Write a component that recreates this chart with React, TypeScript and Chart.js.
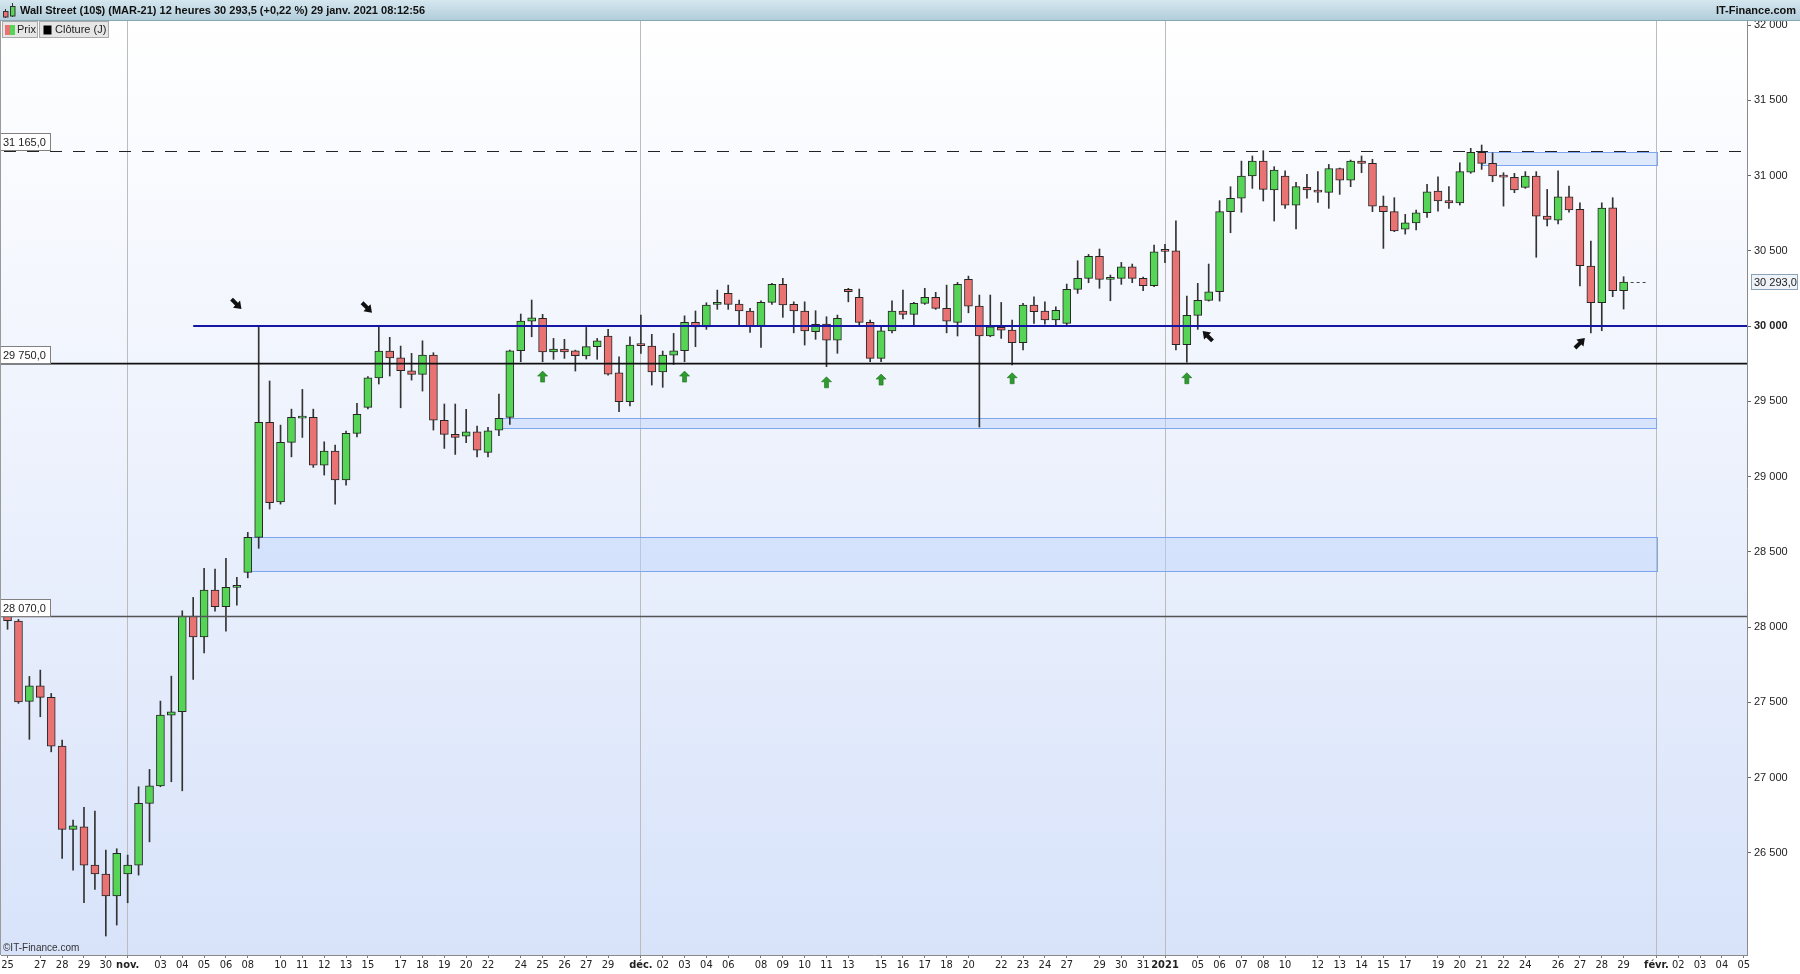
import React, { useEffect, useRef } from 'react';
import { Chart, registerables } from 'chart.js';
Chart.register(...registerables);

// ---------- data (12h candles, index 0 = Sun 25 Oct 2020) ----------
const opens = [
  28073,28040,27506,27610,27533,27209,26656,26673,26418,26359,
  26214,26359,26418,26828,26945,27415,27437,28073,27935,28246,
  28135,28264,28363,28596,29360,28832,29227,29388,29393,29076,
  29169,28977,29287,29460,29656,29834,29789,29703,29679,29807,
  29373,29280,29269,29298,29161,29309,29393,29836,30033,30051,
  29829,29847,29835,29801,29863,29934,29690,29497,29878,29867,
  29696,29807,29836,30025,29995,30144,30217,30146,30100,30000,
  30157,30277,30144,30100,29962,30013,29907,30244,30191,30025,
  29785,29967,30100,30078,30151,30191,30118,30025,30310,30133,
  29934,29991,29973,29889,30140,30100,30040,30018,30244,30317,
  30463,30310,30317,30394,30317,30268,30503,30500,29876,30071,
  30171,30228,30760,30849,30997,31096,30904,30997,30804,30922,
  30897,30888,31047,30970,31096,31081,30797,30760,30643,30686,
  30753,30897,30833,30819,31023,31154,31081,30997,30988,30922,
  30997,30731,30704,30859,30775,30399,30155,30786,30235
];
const highs = [
  28110,28051,27672,27714,27559,27249,26717,26802,26777,26518,
  26527,26485,26939,27054,27508,27674,28108,28197,28390,28385,
  28456,28330,28629,30005,29635,29342,29448,29579,29448,29231,
  29209,29302,29486,29665,30000,29925,29867,29819,29902,29823,
  29482,29482,29446,29336,29327,29548,29840,30080,30173,30078,
  29918,29912,29840,29991,29918,29978,29796,29929,30073,29945,
  29834,29951,30068,30100,30155,30239,30272,30173,30118,30168,
  30284,30317,30161,30161,30102,30062,30073,30251,30246,30040,
  29995,30168,30239,30157,30251,30224,30272,30290,30332,30206,
  30206,30157,30040,30151,30195,30161,30128,30279,30434,30476,
  30512,30339,30423,30412,30325,30538,30543,30700,30199,30284,
  30412,30833,30926,31096,31130,31165,31059,31032,30955,31008,
  31026,31074,31050,31103,31130,31108,30864,30853,30742,30771,
  30942,30992,30926,31085,31181,31203,31152,31019,31015,31026,
  31026,30908,31032,30930,30819,30565,30819,30853,30328
];
const lows = [
  27985,27493,27254,27404,27171,26463,26385,26168,26257,25947,
  26020,26168,26352,26573,26939,26972,26912,27652,27829,28106,
  27973,28146,28327,28523,28784,28817,29131,29260,29061,29010,
  28817,28943,29264,29450,29615,29668,29457,29641,29568,29309,
  29187,29147,29225,29131,29131,29271,29347,29763,29929,29763,
  29779,29785,29701,29781,29779,29674,29431,29470,29819,29608,
  29593,29745,29763,29863,29978,30111,30111,30000,29958,29858,
  30144,30058,29955,29874,29912,29730,29819,30161,30000,29763,
  29763,29955,30047,30000,30144,30111,29955,29934,30088,29329,
  29929,29918,29741,29841,30018,30013,30002,30007,30217,30288,
  30251,30168,30277,30288,30235,30261,30421,29841,29760,29978,
  30166,30166,30620,30756,30915,30831,30698,30782,30645,30849,
  30822,30782,30875,30926,31019,30760,30516,30627,30611,30638,
  30722,30764,30782,30804,31015,31041,30959,30797,30886,30915,
  30457,30665,30678,30756,30266,29955,29969,30195,30113
];
const closes = [
  28042,27503,27610,27533,27209,26656,26680,26418,26359,26214,
  26496,26418,26828,26945,27415,27437,28073,27935,28246,28135,
  28264,28272,28596,29360,28826,29227,29393,29398,29076,29169,
  28977,29287,29413,29656,29834,29789,29703,29679,29807,29375,
  29280,29260,29298,29176,29304,29387,29836,30033,30055,29829,
  29847,29829,29803,29863,29902,29681,29497,29874,29870,29696,
  29807,29836,30025,29995,30140,30157,30144,30100,30000,30157,
  30277,30140,30100,29967,30011,29907,30051,30228,30025,29785,
  29969,30100,30078,30151,30191,30118,30033,30277,30133,29934,
  29995,29973,29889,30140,30095,30040,30104,30244,30317,30463,
  30310,30324,30394,30317,30268,30494,30496,29876,30071,30171,
  30228,30760,30849,30997,31096,30908,31037,30804,30926,30904,
  30890,31047,30970,31096,31081,30797,30760,30633,30686,30753,
  30892,30831,30819,31026,31154,31081,30997,30990,30904,30997,
  30731,30709,30859,30771,30401,30155,30784,30235,30293
];

const tickIdx = [0,3,5,7,9,11,14,16,18,20,22,25,27,29,31,33,36,38,40,42,44,47,49,51,53,55,
  58,60,62,64,66,69,71,73,75,77,80,82,84,86,88,91,93,95,97,100,102,104,
  106,109,111,113,115,117,120,122,124,126,128,131,133,135,137,139,142,144,146,148,
  151,153,155,157,159];
const tickText = ['25','27','28','29','30','nov.','03','04','05','06','08','10','11','12','13','15','17','18','19','20','22','24','25','26','27','29',
  'déc.','02','03','04','06','08','09','10','11','13','15','16','17','18','20','22','23','24','27','29','30','31',
  '2021','05','06','07','08','10','12','13','14','15','17','19','20','21','22','24','26','27','28','29',
  'févr.','02','03','04','05'];
const monthIdx = [11, 58, 106, 151];
const monthText = ['nov.', 'déc.', '2021', 'févr.'];
const yTicks = [26500, 27000, 27500, 28000, 28500, 29000, 29500, 30000, 30500, 31000, 31500, 32000];

// zones (support/resistance boxes)
const zoneFrom = [22, 45, 135];
const zoneTo = [151, 151, 151];
const zoneLow = [28370, 29320, 31070];
const zoneHigh = [28596, 29387, 31154];

// horizontal levels
const levelValues = [31165, 29750, 28070];
const levelTexts = ['31 165,0', '29 750,0', '28 070,0'];
const blueLevel = 30000;
const blueFrom = 17;

// annotations
const blackArrowX = [20.97, 32.92, 109.9, 144.0];
const blackArrowY = [30146, 30122, 29934, 29887];
const blackArrowDir = [45, 45, 225, -45];
const greenArrowX = [49, 62, 75, 80, 92, 108];
const greenArrowY = [29661, 29661, 29623, 29641, 29650, 29650];

const lastPrice = 30293;
const lastText = '30 293,0';
const titleText = 'Wall Street (10$) (MAR-21) 12 heures 30 293,5 (+0,22 %) 29 janv. 2021 08:12:56';

const SANS = '"Liberation Sans", Arial, sans-serif';
const NARROW = '"Liberation Sans Narrow", "DejaVu Sans Condensed", "Liberation Sans", sans-serif';
const GREEN = '#55d455';
const RED = '#e97373';

const fmt = (v: number) => {
  const s = String(Math.round(v));
  return s.slice(0, s.length - 3) + ' ' + s.slice(-3);
};

const deco = {
  id: 'deco',
  beforeDraw(chart: any) {
    const { ctx, chartArea: a } = chart;
    ctx.save();
    ctx.fillStyle = '#ffffff';
    ctx.fillRect(0, 0, chart.width, chart.height);
    const g = ctx.createLinearGradient(0, a.top, 0, a.bottom);
    g.addColorStop(0, '#ffffff');
    g.addColorStop(1, '#d8e3fa');
    ctx.fillStyle = g;
    ctx.fillRect(a.left, a.top, a.right - a.left, a.bottom - a.top);
    ctx.restore();
  },
  beforeDatasetsDraw(chart: any) {
    const { ctx } = chart;
    const xs = chart.scales.x, ys = chart.scales.y;
    ctx.save();
    for (let k = 0; k < zoneFrom.length; k++) {
      const x0 = xs.getPixelForValue(zoneFrom[k]);
      const x1 = xs.getPixelForValue(zoneTo[k]);
      const y0 = ys.getPixelForValue(zoneHigh[k]);
      const y1 = ys.getPixelForValue(zoneLow[k]);
      ctx.fillStyle = 'rgba(188,210,250,0.45)';
      ctx.fillRect(x0, y0, x1 - x0, y1 - y0);
      ctx.strokeStyle = '#7ea6ee';
      ctx.lineWidth = 1;
      ctx.strokeRect(Math.round(x0) + 0.5, Math.round(y0) + 0.5, Math.round(x1 - x0), Math.round(y1 - y0));
    }
    ctx.restore();
  },
  afterDatasetsDraw(chart: any) {
    const { ctx, chartArea: a } = chart;
    const xs = chart.scales.x, ys = chart.scales.y;
    ctx.save();
    // dashed resistance
    let y = Math.round(ys.getPixelForValue(levelValues[0])) + 0.5;
    ctx.strokeStyle = '#222';
    ctx.lineWidth = 1;
    ctx.setLineDash([12, 11]);
    ctx.beginPath(); ctx.moveTo(a.left + 3, y); ctx.lineTo(a.right, y); ctx.stroke();
    ctx.setLineDash([]);
    // 29750 black
    y = ys.getPixelForValue(levelValues[1]);
    ctx.strokeStyle = '#111'; ctx.lineWidth = 1.8;
    ctx.beginPath(); ctx.moveTo(a.left, y); ctx.lineTo(a.right, y); ctx.stroke();
    // 28070 gray
    y = ys.getPixelForValue(levelValues[2]);
    ctx.strokeStyle = '#555'; ctx.lineWidth = 1.4;
    ctx.beginPath(); ctx.moveTo(a.left, y); ctx.lineTo(a.right, y); ctx.stroke();
    // 30000 blue
    y = ys.getPixelForValue(blueLevel);
    ctx.strokeStyle = '#1616a4'; ctx.lineWidth = 2;
    ctx.beginPath(); ctx.moveTo(xs.getPixelForValue(blueFrom), y); ctx.lineTo(a.right, y); ctx.stroke();

    // black arrows
    for (let k = 0; k < blackArrowX.length; k++) {
      const cx = xs.getPixelForValue(blackArrowX[k]);
      const cy = ys.getPixelForValue(blackArrowY[k]);
      ctx.save();
      ctx.translate(cx, cy);
      ctx.rotate((blackArrowDir[k] * Math.PI) / 180);
      ctx.fillStyle = '#111';
      ctx.beginPath();
      ctx.moveTo(7, 0); ctx.lineTo(0, -5); ctx.lineTo(0, -2); ctx.lineTo(-7, -2);
      ctx.lineTo(-7, 2); ctx.lineTo(0, 2); ctx.lineTo(0, 5); ctx.closePath();
      ctx.fill();
      ctx.restore();
    }
    // green arrows
    for (let k = 0; k < greenArrowX.length; k++) {
      const cx = xs.getPixelForValue(greenArrowX[k]);
      const cy = ys.getPixelForValue(greenArrowY[k]);
      ctx.save();
      ctx.translate(cx, cy);
      ctx.fillStyle = '#2f9c2f';
      ctx.strokeStyle = '#1e6d1e';
      ctx.lineWidth = 0.6;
      ctx.beginPath();
      ctx.moveTo(0, -6); ctx.lineTo(5, -1); ctx.lineTo(2, -1); ctx.lineTo(2, 5);
      ctx.lineTo(-2, 5); ctx.lineTo(-2, -1); ctx.lineTo(-5, -1); ctx.closePath();
      ctx.fill(); ctx.stroke();
      ctx.restore();
    }
    // close marker dashed
    const lx = xs.getPixelForValue(closes.length - 1);
    const ly = Math.round(ys.getPixelForValue(lastPrice)) + 0.5;
    ctx.strokeStyle = '#444'; ctx.lineWidth = 1; ctx.setLineDash([3, 3]);
    ctx.beginPath(); ctx.moveTo(lx + 7, ly); ctx.lineTo(lx + 22, ly); ctx.stroke();
    ctx.setLineDash([]);

    // left level labels
    ctx.font = '11px ' + SANS;
    ctx.textBaseline = 'middle';
    for (let k = 0; k < levelValues.length; k++) {
      const by = Math.round(ys.getPixelForValue(levelValues[k]));
      ctx.fillStyle = '#ffffff';
      ctx.fillRect(0.5, by - 17.5, 50, 17);
      ctx.strokeStyle = '#808080'; ctx.lineWidth = 1;
      ctx.strokeRect(0.5, by - 17.5, 50, 17);
      ctx.fillStyle = '#222';
      ctx.fillText(levelTexts[k], 3, by - 8.5);
    }
    // copyright
    ctx.font = '10px ' + SANS;
    ctx.fillStyle = '#333';
    ctx.fillText('\u00a9IT-Finance.com', 3, a.bottom - 7);
    // left border
    ctx.strokeStyle = '#9a9a9a'; ctx.lineWidth = 1;
    ctx.beginPath(); ctx.moveTo(0.5, a.top); ctx.lineTo(0.5, a.bottom); ctx.stroke();
    ctx.restore();
  },
  afterDraw(chart: any) {
    const { ctx } = chart;
    const ys = chart.scales.y;
    ctx.save();
    // header
    const g = ctx.createLinearGradient(0, 0, 0, 21);
    g.addColorStop(0, '#d5e7ef');
    g.addColorStop(1, '#b1ccda');
    ctx.fillStyle = g;
    ctx.fillRect(0, 0, chart.width, 21);
    ctx.strokeStyle = '#86a6b6'; ctx.lineWidth = 1;
    ctx.beginPath(); ctx.moveTo(0, 20.5); ctx.lineTo(chart.width, 20.5); ctx.stroke();
    // icon
    ctx.strokeStyle = '#333';
    ctx.beginPath(); ctx.moveTo(5.5, 9); ctx.lineTo(5.5, 18); ctx.moveTo(12.5, 3); ctx.lineTo(12.5, 17); ctx.stroke();
    ctx.fillStyle = RED; ctx.fillRect(3, 11.5, 5, 5.5); ctx.strokeRect(3.5, 11.5, 4.5, 5.5);
    ctx.fillStyle = GREEN; ctx.fillRect(10, 6.5, 5, 9.5); ctx.strokeRect(10.5, 6.5, 4.5, 9.5);
    ctx.font = 'bold 11px ' + SANS;
    ctx.fillStyle = '#111';
    ctx.textBaseline = 'middle';
    ctx.textAlign = 'left';
    ctx.fillText(titleText, 20, 11);
    ctx.textAlign = 'right';
    ctx.fillText('IT-Finance.com', 1796, 11);
    ctx.textAlign = 'left';
    // legend boxes
    ctx.font = '11px ' + SANS;
    ctx.fillStyle = '#e6e6e6';
    ctx.fillRect(2.5, 21.5, 35, 16);
    ctx.fillRect(39.5, 21.5, 69, 16);
    ctx.strokeStyle = '#a9a9a9';
    ctx.strokeRect(2.5, 21.5, 35, 16);
    ctx.strokeRect(39.5, 21.5, 69, 16);
    ctx.fillStyle = RED; ctx.fillRect(5, 25, 5, 10);
    ctx.fillStyle = GREEN; ctx.fillRect(10, 25, 5, 10);
    ctx.fillStyle = '#000'; ctx.fillRect(43.5, 25.5, 8, 9);
    ctx.fillStyle = '#222';
    ctx.fillText('Prix', 17, 30);
    ctx.fillText('Cl\u00f4ture (J)', 55, 30);
    // last price label on axis
    const py = Math.round(ys.getPixelForValue(lastPrice));
    ctx.fillStyle = '#eef3f8';
    ctx.fillRect(1751.5, py - 7.5, 46, 15);
    ctx.strokeStyle = '#8aa3b8';
    ctx.strokeRect(1751.5, py - 7.5, 46, 15);
    ctx.fillStyle = '#222';
    ctx.fillText(lastText, 1754, py + 0.5);
    ctx.restore();
  },
};

export default function App() {
  const ref = useRef<HTMLCanvasElement>(null);
  useEffect(() => {
    document.body.style.margin = '0';
    document.body.style.overflow = 'hidden';
    const canvas = ref.current!;
    const idx = opens.map((_, i) => i);
    const chart = new Chart(canvas, {
      type: 'bar',
      data: {
        datasets: [
          {
            label: 'corps',
            data: idx.map((i) => ({ x: i, y: [opens[i], closes[i]] })) as any,
            backgroundColor: idx.map((i) => (closes[i] >= opens[i] ? GREEN : RED)),
            borderColor: '#262626',
            borderWidth: 1,
            borderSkipped: false,
            barThickness: 8,
            grouped: false,
            order: 0,
            minBarLength: 2,
          } as any,
          {
            label: 'mèches',
            data: idx.map((i) => ({ x: i, y: [lows[i], highs[i]] })) as any,
            backgroundColor: '#333333',
            borderWidth: 0,
            barThickness: 1,
            grouped: false,
            order: 1,
          } as any,
        ],
      },
      options: {
        responsive: false,
        animation: false,
        devicePixelRatio: 1,
        events: [],
        layout: { padding: { top: 21, left: 1, right: 0, bottom: 0 } },
        plugins: { legend: { display: false }, tooltip: { enabled: false } },
        scales: {
          x: {
            type: 'linear',
            min: -0.6,
            max: 159.3,
            offset: false,
            afterBuildTicks: (s: any) => {
              s.ticks = tickIdx.map((v) => ({ value: v }));
            },
            afterFit: (s: any) => {
              s.height = 19;
              s.paddingLeft = 0;
              s.paddingRight = 0;
            },
            grid: {
              color: (c: any) => (c.tick && monthIdx.includes(c.tick.value) ? '#bcbcbc' : 'rgba(0,0,0,0)'),
              tickColor: '#777',
              tickLength: 3,
              lineWidth: 1,
              offset: false,
            },
            border: { display: true, color: '#8a8a8a' },
            ticks: {
              autoSkip: false,
              maxRotation: 0,
              minRotation: 0,
              padding: 1,
              color: '#222',
              font: (c: any) => ({
                family: NARROW,
                size: 11,
                weight: c.tick && monthText.includes(c.tick.label) ? 'bold' : 'normal',
              }),
              callback: (v: any) => {
                const k = tickIdx.indexOf(Number(v));
                return k >= 0 ? tickText[k] : '';
              },
            },
          } as any,
          y: {
            type: 'linear',
            position: 'right',
            min: 25821,
            max: 32027,
            afterBuildTicks: (s: any) => {
              s.ticks = yTicks.map((v) => ({ value: v }));
            },
            afterFit: (s: any) => {
              s.width = 53;
              s.paddingTop = 0;
              s.paddingBottom = 0;
            },
            grid: { drawOnChartArea: false, drawTicks: true, tickLength: 4, tickColor: '#666' },
            border: { display: true, color: '#8a8a8a' },
            ticks: {
              padding: 3,
              color: '#222',
              font: (c: any) => ({
                family: SANS,
                size: 11,
                weight: c.tick && c.tick.value === 30000 ? 'bold' : 'normal',
              }),
              callback: (v: any) => fmt(Number(v)),
            },
          } as any,
        },
      },
      plugins: [deco as any],
    });
    return () => chart.destroy();
  }, []);
  return <canvas ref={ref} width={1800} height={974} style={{ display: 'block', width: 1800, height: 974 }} />;
}
